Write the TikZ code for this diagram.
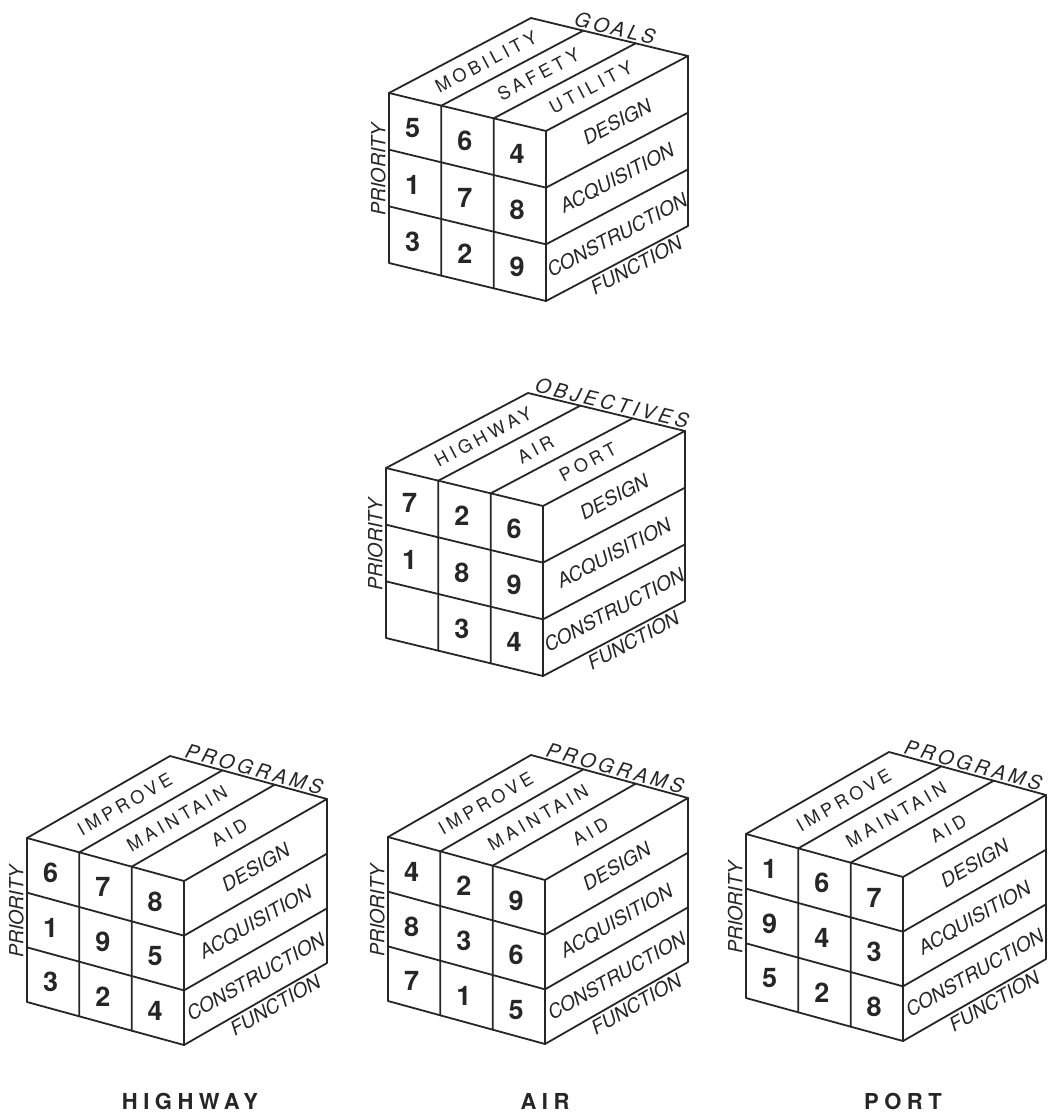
\documentclass[tikz,border=0pt]{standalone}
\usepackage{fontspec}
\setmainfont{TeX Gyre Heros}

% one cube of the matrix: #1 name, #2 axis title, #3-#5 top strips, #6 nine numbers row by row
\newcommand{\matrixcube}[6]{%
  \draw[edge] (0,0,0) -- (1,0,0) -- (1,1,0) -- (0,1,0) -- cycle;
  \draw[edge] (0,0,0) -- (0,0,1) -- (1,0,1) -- (1,0,0);
  \draw[edge] (1,0,1) -- (1,1,1) -- (1,1,0);
  \foreach \u in {0.3333,0.6667}
    \draw[edge] (\u,0,1) -- (\u,0,0) -- (\u,1,0);
  \foreach \v in {0.3333,0.6667}
    \draw[edge] (0,\v,0) -- (1,\v,0) -- (1,\v,1);
  \foreach \n [count=\i from 0] in {#6} {
    \pgfmathsetmacro\cu{(mod(\i,3)+0.45)/3}
    \pgfmathsetmacro\rv{(int(\i/3)+0.52)/3}
    \node[num] (#1-n\i) at (\cu,\rv,0) {\n};
  }
  \path (0.1667,0,0) -- (0.1667,0,1) node[toplab, midway, sloped] (#1-s1) {#3};
  \path (0.5,0,0) -- (0.5,0,1) node[toplab, midway, sloped] (#1-s2) {#4};
  \path (0.8333,0,0) -- (0.8333,0,1) node[toplab, midway, sloped] (#1-s3) {#5};
  \path (0,0,1) -- (1,0,1) node[axislab, pos=0.52, sloped, above] (#1-axis) {#2};
  \path (1,0.1667,0) -- (1,0.1667,1) node[facelab, midway, sloped] (#1-design) {DESIGN};
  \path (1,0.5,0) -- (1,0.5,1) node[facelab, midway, sloped] (#1-acq) {ACQUISITION};
  \path (1,0.8333,0) -- (1,0.8333,1) node[facelab, midway, sloped] (#1-cons) {CONSTRUCTION};
  \path (1,1,0) -- (1,1,1) node[facelab, pos=0.6, sloped, below] (#1-func) {FUNCTION};
  \path (0,1,0) -- (0,0,0) node[facelab, pos=0.55, sloped, above] (#1-prio) {PRIORITY};
}

\begin{document}
\begin{tikzpicture}[
    x=1pt, y=-1pt,
    edge/.style={line width=1.8pt, draw=black!85, line join=round, line cap=round},
    num/.style={font=\fontsize{27}{27}\selectfont\bfseries, text=black!85},
    toplab/.style={font=\fontsize{18}{18}\selectfont\addfontfeature{LetterSpace=22}, text=black!85},
    facelab/.style={font=\fontsize{19.5}{19.5}\selectfont\itshape, text=black!85, inner sep=3pt},
    axislab/.style={font=\fontsize{20}{20}\selectfont\itshape\addfontfeature{LetterSpace=18}, text=black!85, inner sep=2pt},
    caption/.style={font=\fontsize{22}{22}\selectfont\bfseries\addfontfeature{LetterSpace=25}, text=black!85},
    uppercube/.style={x={(157pt,-38pt)}, y={(0pt,-170pt)}, z={(142pt,75pt)}},
    lowercube/.style={x={(157pt,-43pt)}, y={(0pt,-164pt)}, z={(143pt,82pt)}}
]
\useasboundingbox (0,0) rectangle (1061,1115);

\begin{scope}[shift={(389,93)}, uppercube]
  \matrixcube{goals}{GOALS}{MOBILITY}{SAFETY}{UTILITY}{5,6,4,1,7,8,3,2,9}
\end{scope}

\begin{scope}[shift={(386,468)}, uppercube]
  \matrixcube{obj}{OBJECTIVES}{HIGHWAY}{AIR}{PORT}{7,2,6,1,8,9,,3,4}
\end{scope}

\begin{scope}[shift={(27,838)}, lowercube]
  \matrixcube{hwy}{PROGRAMS}{IMPROVE}{MAINTAIN}{AID}{6,7,8,1,9,5,3,2,4}
\end{scope}

\begin{scope}[shift={(388,837)}, lowercube]
  \matrixcube{air}{PROGRAMS}{IMPROVE}{MAINTAIN}{AID}{4,2,9,8,3,6,7,1,5}
\end{scope}

\begin{scope}[shift={(746,834)}, lowercube]
  \matrixcube{port}{PROGRAMS}{IMPROVE}{MAINTAIN}{AID}{1,6,7,9,4,3,5,2,8}
\end{scope}

\node[caption] (hwytitle) at (190,1101) {HIGHWAY};
\node[caption] (airtitle) at (545,1101) {AIR};
\node[caption] (porttitle) at (903,1101) {PORT};
\end{tikzpicture}
\end{document}
